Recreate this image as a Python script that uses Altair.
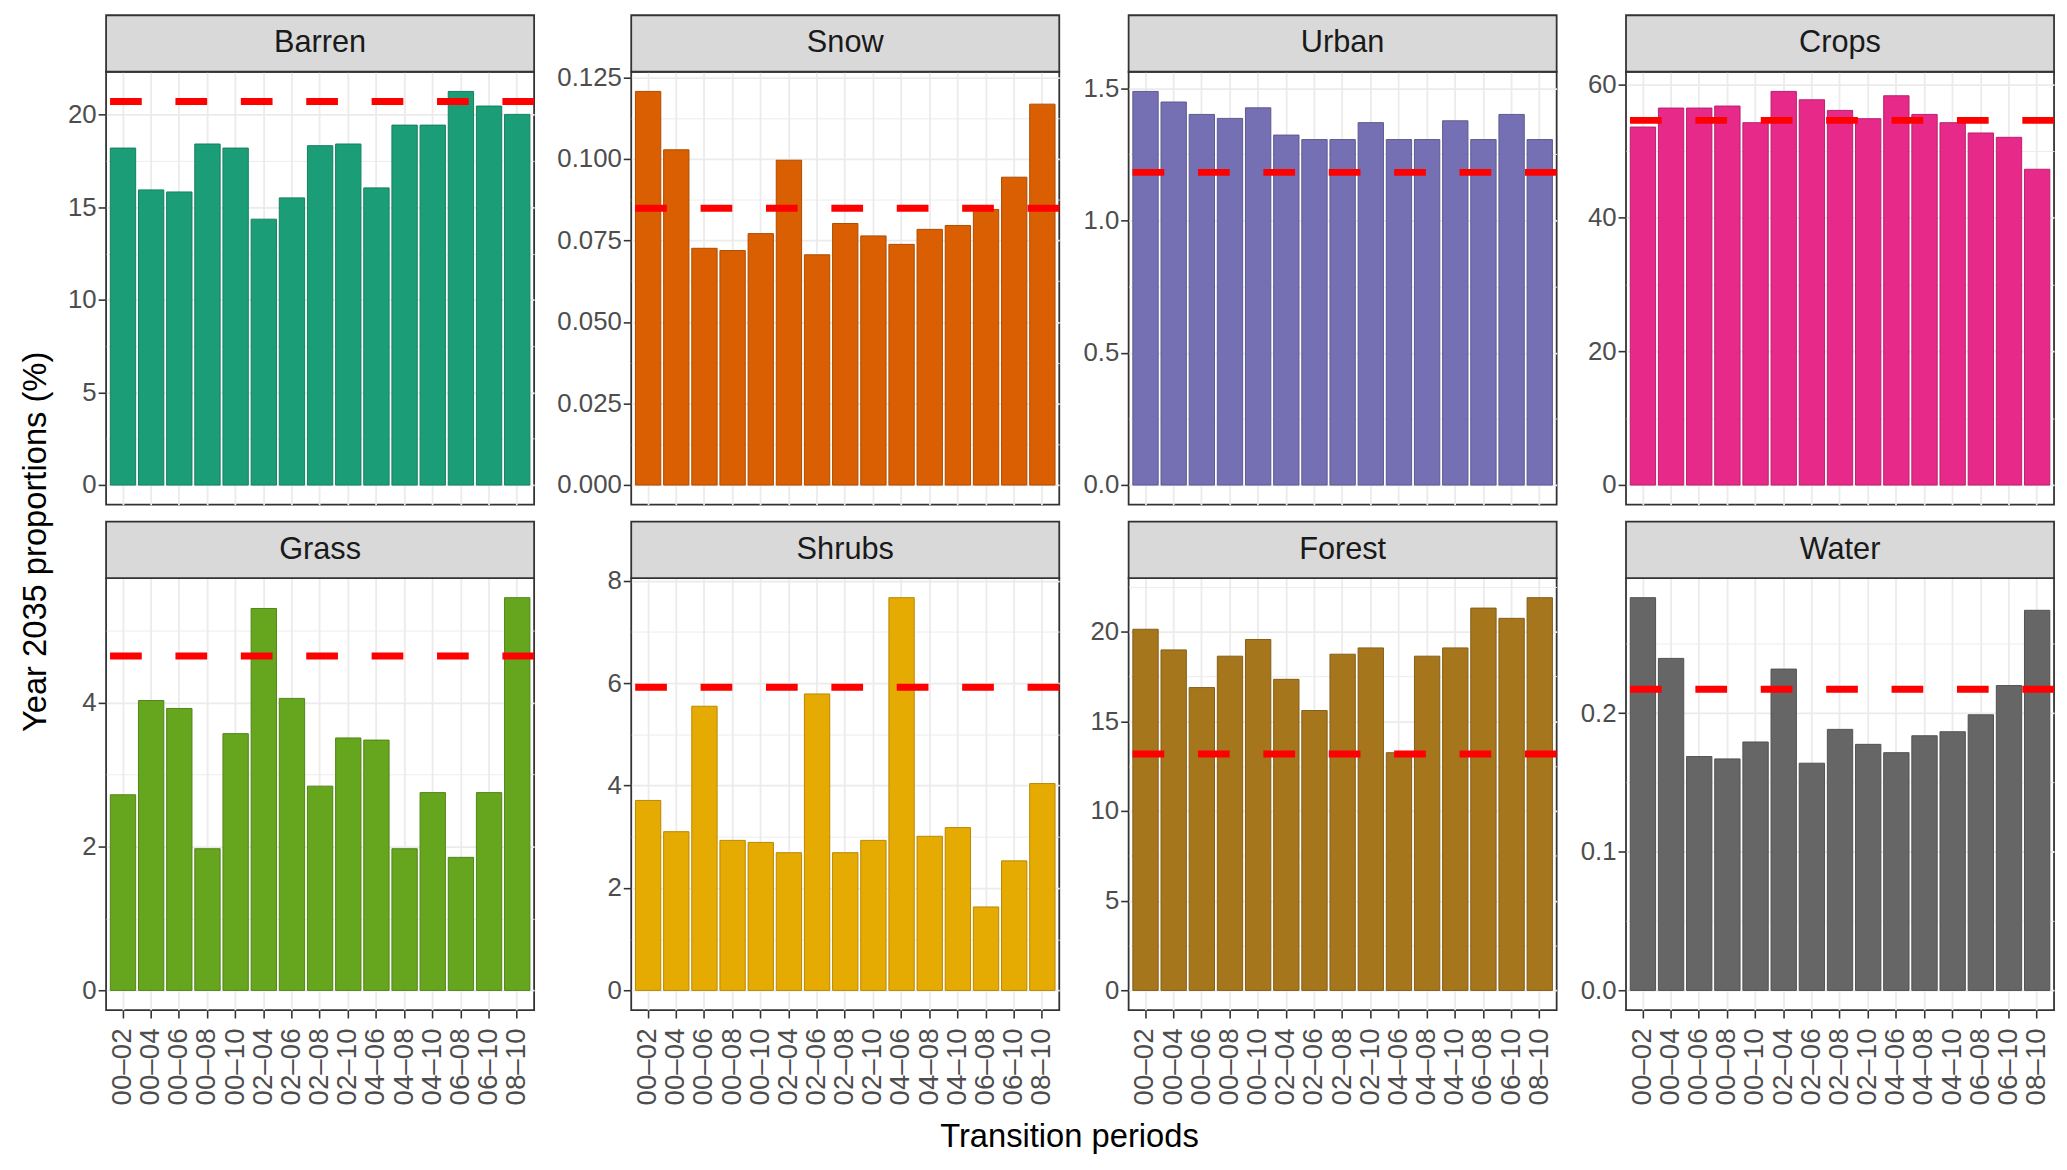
import json
import pandas as pd
import altair as alt

periodes = ["00–02", "00–04", "00–06", "00–08", "00–10", "02–04", "02–06", "02–08",
            "02–10", "04–06", "04–08", "04–10", "06–08", "06–10", "08–10"]
classes = ["Barren", "Snow", "Urban", "Crops", "Grass", "Shrubs", "Forest", "Water"]
couleurs = ["#1B9E77", "#D95F02", "#7570B3", "#E7298A", "#66A61E", "#E6AB02", "#A6761D", "#666666"]

barren = [18.2, 15.94, 15.83, 18.42, 18.2, 14.36, 15.51, 18.33, 18.42, 16.05, 19.44, 19.44, 21.26, 20.47, 20.02]
snow = [0.1207, 0.1028, 0.0726, 0.0719, 0.0771, 0.0996, 0.0706, 0.0802, 0.0764, 0.0738, 0.0784, 0.0796, 0.0845, 0.0944, 0.1168]
urban = [1.488, 1.448, 1.401, 1.386, 1.426, 1.323, 1.306, 1.306, 1.370, 1.306, 1.306, 1.377, 1.306, 1.401, 1.306]
crops = [53.58, 56.42, 56.42, 56.72, 54.23, 58.91, 57.66, 56.07, 54.83, 58.26, 55.47, 54.23, 52.69, 52.04, 47.26]
grass = [2.72, 4.03, 3.92, 1.97, 3.57, 5.31, 4.06, 2.84, 3.51, 3.48, 1.97, 2.75, 1.85, 2.75, 5.46]
shrubs = [3.71, 3.10, 5.55, 2.93, 2.89, 2.69, 5.79, 2.69, 2.93, 7.67, 3.01, 3.18, 1.63, 2.53, 4.04]
forest = [20.13, 18.98, 16.88, 18.63, 19.56, 17.34, 15.60, 18.74, 19.09, 13.25, 18.63, 19.09, 21.31, 20.74, 21.89]
water = [0.2833, 0.2395, 0.1687, 0.1670, 0.1792, 0.2318, 0.1639, 0.1883, 0.1775, 0.1715, 0.1837, 0.1866, 0.1988, 0.2199, 0.2742]
valeurs = [barren, snow, urban, crops, grass, shrubs, forest, water]

# dashed reference level of each class
lignes = [20.72, 0.0849, 1.182, 54.58, 4.65, 5.92, 13.18, 0.2172]

graduations = [
    [0, 5, 10, 15, 20],
    [0, 0.025, 0.05, 0.075, 0.1, 0.125],
    [0, 0.5, 1.0, 1.5],
    [0, 20, 40, 60],
    [0, 2, 4],
    [0, 2, 4, 6, 8],
    [0, 5, 10, 15, 20],
    [0, 0.1, 0.2],
]
formats = ["d", ".3f", ".1f", "d", "d", "d", "d", ".1f"]

POLICE = "Liberation Sans"
LARGEUR = 432
BANDEAU = 57


def assombrir(hexa, f=0.8):
    r, g, b = (int(hexa[k:k + 2], 16) for k in (1, 3, 5))
    return "#{:02x}{:02x}{:02x}".format(int(r * f), int(g * f), int(b * f))


def panneau(i, bas):
    nom = classes[i]
    hauteur = 436 if bas else 437
    donnees = pd.DataFrame({"periode": periodes, "valeur": valeurs[i]})
    haut = max(valeurs[i] + [lignes[i]])
    domaine = [-0.05 * haut, 1.05 * haut]

    majeures = graduations[i]
    pas = majeures[1] - majeures[0]
    mineures = [(a + b) / 2 for a, b in zip(majeures[:-1], majeures[1:])]
    if majeures[-1] + pas / 2 <= domaine[1]:
        mineures.append(majeures[-1] + pas / 2)
    test = f"indexof({json.dumps(majeures)}, datum.value) >= 0"

    if bas:
        axe_x = alt.Axis(title=None, labelAngle=270, labelPadding=10,
                         labelFontSize=28, grid=True)
    else:
        axe_x = alt.Axis(title=None, labels=False, ticks=False, grid=True)

    axe_y = alt.Axis(
        title=None,
        values=sorted(majeures + mineures),
        format=formats[i],
        labelExpr=f"{test} ? datum.label : ''",
        tickOpacity={"condition": {"test": test, "value": 1}, "value": 0},
        gridWidth={"condition": {"test": test, "value": 1.8}, "value": 0.9},
    )

    barres = alt.Chart(donnees).mark_bar(
        fill=couleurs[i],
        stroke=assombrir(couleurs[i]),
        strokeWidth=1
    ).encode(
        x=alt.X("periode:N", sort=periodes, axis=axe_x,
                scale=alt.Scale(paddingInner=0.1, paddingOuter=0.15)),
        y=alt.Y("valeur:Q", axis=axe_y,
                scale=alt.Scale(domain=domaine, nice=False, zero=False))
    )

    ligne = alt.Chart(pd.DataFrame({"ligne": [lignes[i]]})).mark_rule(
        color="#FF0000",
        strokeWidth=7,
        strokeDash=[32, 34]
    ).encode(y="ligne:Q")

    titre = pd.DataFrame({"classe": [nom]})
    bandeau = alt.Chart(titre).mark_rect(
        fill="#D9D9D9",
        stroke="#333333",
        strokeWidth=1.8
    ).encode(
        x=alt.value(0), x2=alt.value(LARGEUR),
        y=alt.value(-BANDEAU), y2=alt.value(0)
    )
    texte = alt.Chart(titre).mark_text(
        font=POLICE,
        fontSize=31,
        color="#1A1A1A",
        baseline="middle"
    ).encode(
        text="classe:N",
        x=alt.value(LARGEUR / 2),
        y=alt.value(-BANDEAU / 2)
    )

    return (bandeau + barres + ligne + texte).properties(width=LARGEUR, height=hauteur)


panneaux = [panneau(i, i >= 4) for i in range(8)]

grille = alt.concat(
    *panneaux,
    columns=4,
    spacing={"row": 14, "column": 17},
    align="each",
    bounds="full",
    title=alt.TitleParams("Transition periods", orient="bottom", anchor="middle",
                          offset=15, dx=7, font=POLICE, fontSize=33,
                          fontWeight="normal", color="#000000")
)

chart = alt.hconcat(
    grille,
    title=alt.TitleParams("Year 2035 proportions (%)", orient="left", anchor="middle",
                          offset=14, dx=42, font=POLICE, fontSize=33,
                          fontWeight="normal", color="#000000")
).properties(
    padding={"left": 12, "top": 0, "right": 0, "bottom": 0}
).configure_view(
    stroke="#333333",
    strokeWidth=1.8
).configure_axis(
    labelFont=POLICE,
    labelFontSize=26,
    labelColor="#4D4D4D",
    tickColor="#333333",
    tickSize=8,
    tickWidth=1.6,
    domain=False,
    gridColor="#EBEBEB",
    gridWidth=1.8
)

chart.save("out.html", embed_options={"renderer": "svg", "actions": False})
